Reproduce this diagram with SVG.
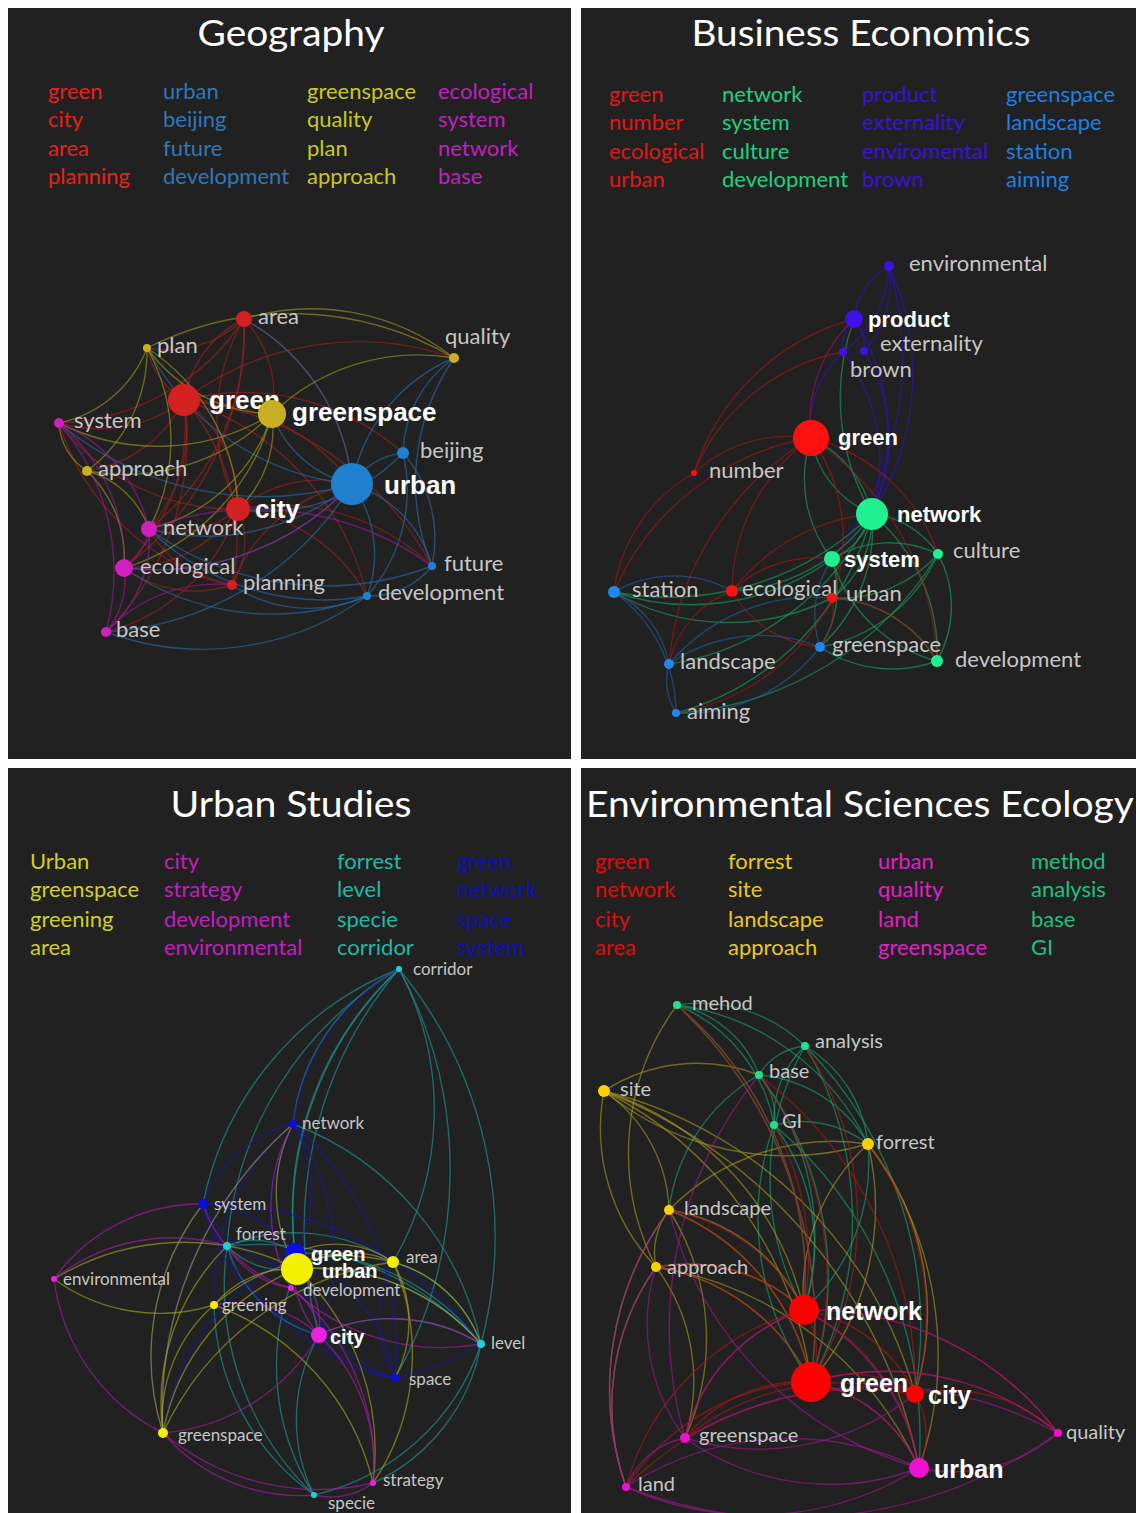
<svg xmlns="http://www.w3.org/2000/svg" width="1136" height="1513" viewBox="0 0 1136 1513">
<style>
.bg{fill:#212121}
.tt{font-family:Lato,"Open Sans",sans-serif;font-size:36px;fill:#ffffff;text-anchor:middle}
.lg{font-family:Lato,"Open Sans",sans-serif;font-size:22px}
.nl{font-family:Lato,"Open Sans",sans-serif;fill:#c6c6c6}
.s1{font-size:22px}.s3{font-size:17px}.s4{font-size:20px}
.bl{font-family:"Liberation Sans",Arial,sans-serif;font-weight:bold;fill:#ffffff}
.e path{fill:none;stroke-width:1.4;stroke-opacity:0.6}
.r1 path{stroke:#a02020}.b1 path{stroke:#2a6aa8}.y1 path{stroke:#a09a20}.m1 path{stroke:#9a1a9a}
.r2 path{stroke:#a01818}.g2 path{stroke:#18a060}.p2 path{stroke:#3010c0}.bl2 path{stroke:#1e5e9e}
.t3 path{stroke:#1e9a9a}.b3 path{stroke:#1818b0}.y3 path{stroke:#a8a820}.m3 path{stroke:#a820a8}
.g4 path{stroke:#18a070}.y4 path{stroke:#a89a20}.r4 path{stroke:#b01818}.m4 path{stroke:#a01890}
</style>
<rect width="1136" height="1513" fill="#ffffff"/>

<!-- ================= Panel 1: Geography ================= -->
<g id="panel-geography">
<rect class="bg" x="8" y="8" width="563" height="751"/>
<text class="tt" x="291" y="46" textLength="187" lengthAdjust="spacingAndGlyphs">Geography</text>
<g class="lg">
<text x="48" y="99" fill="#e8201c">green</text><text x="48" y="127" fill="#e8201c">city</text><text x="48" y="156" fill="#e8201c">area</text><text x="48" y="184" fill="#e8201c">planning</text>
<text x="163" y="99" fill="#2f78b8">urban</text><text x="163" y="127" fill="#2f78b8">beijing</text><text x="163" y="156" fill="#2f78b8">future</text><text x="163" y="184" fill="#2f78b8">development</text>
<text x="307" y="99" fill="#c8c820">greenspace</text><text x="307" y="127" fill="#c8c820">quality</text><text x="307" y="156" fill="#c8c820">plan</text><text x="307" y="184" fill="#c8c820">approach</text>
<text x="438" y="99" fill="#c020c0">ecological</text><text x="438" y="127" fill="#c020c0">system</text><text x="438" y="156" fill="#c020c0">network</text><text x="438" y="184" fill="#c020c0">base</text>
</g>
<g id="geo-connectors" class="e">
<g class="r1">
<path d="M184 400 A110 110 0 0 1 244 319"/><path d="M184 400 A80 80 0 0 1 147 348"/><path d="M184 400 A100 100 0 0 1 272 414"/><path d="M184 400 A140 140 0 0 1 59 423"/><path d="M184 400 A130 130 0 0 1 87 471"/><path d="M184 400 A210 210 0 0 1 352 484"/><path d="M184 400 A130 130 0 0 1 238 509"/><path d="M184 400 A150 150 0 0 1 149 529"/><path d="M184 400 A200 200 0 0 1 124 568"/><path d="M184 400 A210 210 0 0 1 232 585"/><path d="M184 400 A270 270 0 0 1 106 632"/><path d="M184 400 A270 270 0 0 1 367 596"/><path d="M184 400 A320 320 0 0 1 432 566"/><path d="M184 400 A240 240 0 0 1 403 453"/><path d="M184 400 A290 290 0 0 1 454 358"/>
<path d="M238 509 A200 200 0 0 1 244 319"/><path d="M238 509 A130 130 0 0 1 352 484"/><path d="M238 509 A100 100 0 0 1 149 529"/><path d="M238 509 A140 140 0 0 1 124 568"/><path d="M238 509 A80 80 0 0 1 232 585"/><path d="M238 509 A220 220 0 0 1 59 423"/><path d="M238 509 A220 220 0 0 1 432 566"/><path d="M238 509 A170 170 0 0 1 367 596"/><path d="M238 509 A190 190 0 0 1 106 632"/>
<path d="M244 319 A110 110 0 0 1 147 348"/><path d="M244 319 A210 210 0 0 1 352 484"/><path d="M244 319 A250 250 0 0 1 149 529"/><path d="M244 319 A230 230 0 0 1 59 423"/><path d="M244 319 A300 300 0 0 1 124 568"/><path d="M244 319 A110 110 0 0 1 272 414"/>
<path d="M232 585 A110 110 0 0 1 149 529"/><path d="M232 585 A160 160 0 0 1 352 484"/><path d="M232 585 A120 120 0 0 1 124 568"/><path d="M232 585 A240 240 0 0 1 59 423"/>
</g>
<g class="b1">
<path d="M352 484 A70 70 0 0 1 403 453"/><path d="M352 484 A120 120 0 0 1 432 566"/><path d="M352 484 A120 120 0 0 1 367 596"/><path d="M352 484 A170 170 0 0 1 454 358"/><path d="M352 484 A110 110 0 0 1 272 414"/><path d="M352 484 A230 230 0 0 1 149 529"/><path d="M352 484 A270 270 0 0 1 124 568"/><path d="M352 484 A320 320 0 0 1 59 423"/><path d="M352 484 A310 310 0 0 1 106 632"/><path d="M352 484 A260 260 0 0 1 147 348"/><path d="M352 484 A210 210 0 0 0 244 319"/>
<path d="M403 453 A130 130 0 0 1 432 566"/><path d="M403 453 A160 160 0 0 1 367 596"/><path d="M403 453 A120 120 0 0 1 454 358"/><path d="M403 453 A190 190 0 0 1 238 509"/>
<path d="M432 566 A80 80 0 0 1 367 596"/><path d="M432 566 A220 220 0 0 1 454 358"/><path d="M432 566 A300 300 0 0 1 149 529"/>
<path d="M367 596 A260 260 0 0 1 124 568"/><path d="M367 596 A280 280 0 0 1 106 632"/><path d="M367 596 A250 250 0 0 1 149 529"/><path d="M367 596 A140 140 0 0 1 232 585"/>
</g>
<g class="y1">
<path d="M272 414 A210 210 0 0 1 454 358"/><path d="M272 414 A160 160 0 0 1 147 348"/><path d="M272 414 A220 220 0 0 1 59 423"/><path d="M272 414 A210 210 0 0 1 87 471"/><path d="M272 414 A170 170 0 0 1 149 529"/><path d="M272 414 A110 110 0 0 1 238 509"/><path d="M272 414 A220 220 0 0 1 124 568"/>
<path d="M147 348 A150 150 0 0 1 87 471"/><path d="M147 348 A120 120 0 0 1 59 423"/><path d="M147 348 A320 320 0 0 1 454 358"/><path d="M147 348 A190 190 0 0 1 149 529"/><path d="M147 348 A200 200 0 0 1 238 509"/>
<path d="M87 471 A60 60 0 0 1 59 423"/><path d="M87 471 A90 90 0 0 1 149 529"/><path d="M87 471 A120 120 0 0 1 124 568"/><path d="M454 358 A230 230 0 0 0 244 319"/>
</g>
<g class="m1">
<path d="M59 423 A150 150 0 0 1 149 529"/><path d="M59 423 A180 180 0 0 1 124 568"/><path d="M59 423 A230 230 0 0 1 106 632"/><path d="M149 529 A60 60 0 0 1 124 568"/><path d="M149 529 A120 120 0 0 1 106 632"/><path d="M124 568 A80 80 0 0 1 106 632"/><path d="M106 632 A150 150 0 0 1 232 585"/><path d="M149 529 A300 300 0 0 1 432 566"/><path d="M124 568 A270 270 0 0 0 352 484"/>
</g>
</g>
<g id="geo-area"><circle cx="244" cy="319" r="8" fill="#d42020"/><text class="nl s1" x="258" y="324">area</text></g>
<g id="geo-plan"><circle cx="147" cy="348" r="4" fill="#c8b020"/><text class="nl s1" x="157" y="353">plan</text></g>
<g id="geo-quality"><circle cx="454" cy="358" r="5" fill="#c8b020"/><text class="nl s1" x="445" y="344">quality</text></g>
<g id="geo-system"><circle cx="59" cy="423" r="5" fill="#d020c0"/><text class="nl s1" x="74" y="428">system</text></g>
<g id="geo-beijing"><circle cx="403" cy="453" r="6" fill="#2080d0"/><text class="nl s1" x="420" y="458">beijing</text></g>
<g id="geo-approach"><circle cx="87" cy="471" r="5" fill="#c8b020"/><text class="nl s1" x="98" y="476">approach</text></g>
<g id="geo-network"><circle cx="149" cy="529" r="8" fill="#d020c0"/><text class="nl s1" x="163" y="535">network</text></g>
<g id="geo-ecological"><circle cx="124" cy="568" r="9" fill="#d020c0"/><text class="nl s1" x="140" y="574">ecological</text></g>
<g id="geo-planning"><circle cx="232" cy="585" r="5" fill="#d42020"/><text class="nl s1" x="243" y="590">planning</text></g>
<g id="geo-future"><circle cx="432" cy="566" r="4" fill="#2080d0"/><text class="nl s1" x="444" y="571">future</text></g>
<g id="geo-development"><circle cx="367" cy="596" r="4" fill="#2080d0"/><text class="nl s1" x="378" y="600">development</text></g>
<g id="geo-base"><circle cx="106" cy="632" r="5" fill="#d020c0"/><text class="nl s1" x="116" y="637">base</text></g>
<g id="geo-green"><circle cx="184" cy="400" r="16" fill="#d42020"/><text class="bl" font-size="26" x="209" y="409">green</text></g>
<g id="geo-greenspace"><circle cx="272" cy="414" r="14" fill="#c8b020"/><text class="bl" font-size="26" x="292" y="421">greenspace</text></g>
<g id="geo-urban"><circle cx="352" cy="484" r="21" fill="#2080d0"/><text class="bl" font-size="26" x="384" y="494">urban</text></g>
<g id="geo-city"><circle cx="238" cy="509" r="12" fill="#d42020"/><text class="bl" font-size="26" x="255" y="518">city</text></g>
</g>

<!-- ================= Panel 2: Business Economics ================= -->
<g id="panel-business">
<rect class="bg" x="581" y="8" width="555" height="751"/>
<text class="tt" x="861" y="46" textLength="339" lengthAdjust="spacingAndGlyphs">Business Economics</text>
<g class="lg">
<text x="609" y="102" fill="#e01818">green</text><text x="609" y="130" fill="#e01818">number</text><text x="609" y="159" fill="#e01818">ecological</text><text x="609" y="187" fill="#e01818">urban</text>
<text x="722" y="102" fill="#20d080">network</text><text x="722" y="130" fill="#20d080">system</text><text x="722" y="159" fill="#20d080">culture</text><text x="722" y="187" fill="#20d080">development</text>
<text x="862" y="102" fill="#3a12d8">product</text><text x="862" y="130" fill="#3a12d8">externality</text><text x="862" y="159" fill="#3a12d8">enviromental</text><text x="862" y="187" fill="#3a12d8">brown</text>
<text x="1006" y="102" fill="#1e80e0">greenspace</text><text x="1006" y="130" fill="#1e80e0">landscape</text><text x="1006" y="159" fill="#1e80e0">station</text><text x="1006" y="187" fill="#1e80e0">aiming</text>
</g>
<g id="bus-connectors" class="e">
<g class="p2">
<path d="M854 319 A70 70 0 0 1 889 266"/><path d="M854 319 A40 40 0 0 1 864 351"/><path d="M854 319 A40 40 0 0 0 843 352"/><path d="M889 266 A100 100 0 0 1 864 351"/><path d="M889 266 A110 110 0 0 1 843 352"/><path d="M854 319 A210 210 0 0 1 872 514"/><path d="M889 266 A260 260 0 0 1 872 514"/><path d="M864 351 A170 170 0 0 1 872 514"/><path d="M843 352 A100 100 0 0 0 811 438"/><path d="M854 319 A140 140 0 0 0 811 438"/><path d="M889 266 A320 320 0 0 1 832 559"/><path d="M843 352 A180 180 0 0 1 872 514"/>
</g>
<g class="g2">
<path d="M872 514 A100 100 0 0 1 811 438"/><path d="M872 514 A110 110 0 0 0 811 438"/><path d="M872 514 A70 70 0 0 1 832 559"/><path d="M872 514 A90 90 0 0 1 938 554"/><path d="M872 514 A100 100 0 0 1 832 598"/><path d="M872 514 A180 180 0 0 1 732 591"/><path d="M872 514 A180 180 0 0 1 937 661"/><path d="M872 514 A160 160 0 0 1 820 647"/><path d="M872 514 A270 270 0 0 1 669 664"/><path d="M872 514 A280 280 0 0 1 676 713"/><path d="M872 514 A230 230 0 0 1 854 319"/><path d="M872 514 A290 290 0 0 1 614 592"/>
<path d="M832 559 A110 110 0 0 1 938 554"/><path d="M832 559 A150 150 0 0 0 937 661"/><path d="M832 559 A240 240 0 0 1 614 592"/><path d="M832 559 A100 100 0 0 1 820 647"/><path d="M832 559 A130 130 0 0 1 811 438"/>
<path d="M938 554 A110 110 0 0 1 937 661"/><path d="M938 554 A130 130 0 0 1 832 598"/><path d="M938 554 A160 160 0 0 1 820 647"/><path d="M938 554 A330 330 0 0 1 676 713"/><path d="M937 661 A130 130 0 0 1 820 647"/><path d="M937 661 A130 130 0 0 0 832 598"/><path d="M614 592 A230 230 0 0 0 832 598"/>
</g>
<g class="r2">
<path d="M811 438 A140 140 0 0 0 694 473"/><path d="M811 438 A190 190 0 0 0 732 591"/><path d="M811 438 A170 170 0 0 1 832 598"/><path d="M811 438 A260 260 0 0 0 614 592"/><path d="M811 438 A290 290 0 0 0 669 664"/><path d="M811 438 A280 280 0 0 1 937 661"/><path d="M811 438 A180 180 0 0 1 938 554"/><path d="M811 438 A140 140 0 0 1 854 319"/>
<path d="M694 473 A230 230 0 0 1 854 319"/><path d="M694 473 A200 200 0 0 1 843 352"/><path d="M694 473 A160 160 0 0 0 614 592"/><path d="M832 598 A60 60 0 0 1 820 647"/><path d="M732 591 A120 120 0 0 1 832 559"/><path d="M732 591 A100 100 0 0 0 669 664"/><path d="M832 598 A210 210 0 0 1 676 713"/><path d="M732 591 A110 110 0 0 0 820 647"/><path d="M832 598 A130 130 0 0 1 937 661"/><path d="M732 591 A200 200 0 0 1 872 514"/>
</g>
<g class="bl2">
<path d="M614 592 A100 100 0 0 1 669 664"/><path d="M614 592 A120 120 0 0 1 732 591"/><path d="M614 592 A150 150 0 0 1 676 713"/><path d="M669 664 A160 160 0 0 1 820 647"/><path d="M669 664 A60 60 0 0 0 676 713"/><path d="M676 713 A170 170 0 0 0 820 647"/><path d="M669 664 A190 190 0 0 1 832 598"/><path d="M820 647 A100 100 0 0 1 832 559"/>
</g>
</g>
<g id="bus-environmental"><circle cx="889" cy="266" r="5" fill="#4010e8"/><text class="nl s1" x="909" y="271">environmental</text></g>
<g id="bus-externality"><circle cx="864" cy="351" r="4" fill="#4010e8"/><text class="nl s1" x="880" y="351">externality</text></g>
<g id="bus-brown"><circle cx="843" cy="352" r="4" fill="#4010e8"/><text class="nl s1" x="850" y="377">brown</text></g>
<g id="bus-number"><circle cx="694" cy="473" r="3" fill="#ff1010"/><text class="nl s1" x="709" y="478">number</text></g>
<g id="bus-culture"><circle cx="938" cy="554" r="5" fill="#20f090"/><text class="nl s1" x="953" y="558">culture</text></g>
<g id="bus-station"><circle cx="614" cy="592" r="6" fill="#1e88f0"/><text class="nl s1" x="632" y="597">station</text></g>
<g id="bus-ecological"><circle cx="732" cy="591" r="6" fill="#ff1010"/><text class="nl s1" x="742" y="596">ecological</text></g>
<g id="bus-urban"><circle cx="832" cy="598" r="5" fill="#ff1010"/><text class="nl s1" x="846" y="601">urban</text></g>
<g id="bus-greenspace"><circle cx="820" cy="647" r="5" fill="#1e88f0"/><text class="nl s1" x="832" y="652">greenspace</text></g>
<g id="bus-development"><circle cx="937" cy="661" r="6" fill="#20f090"/><text class="nl s1" x="955" y="667">development</text></g>
<g id="bus-landscape"><circle cx="669" cy="664" r="5" fill="#1e88f0"/><text class="nl s1" x="680" y="669">landscape</text></g>
<g id="bus-aiming"><circle cx="676" cy="713" r="4" fill="#1e88f0"/><text class="nl s1" x="687" y="719">aiming</text></g>
<g id="bus-product"><circle cx="854" cy="319" r="9" fill="#4010e8"/><text class="bl" font-size="22" x="868" y="327">product</text></g>
<g id="bus-green"><circle cx="811" cy="438" r="18" fill="#ff1010"/><text class="bl" font-size="22" x="838" y="445">green</text></g>
<g id="bus-network"><circle cx="872" cy="514" r="16" fill="#20f090"/><text class="bl" font-size="22" x="897" y="522">network</text></g>
<g id="bus-system"><circle cx="832" cy="559" r="8" fill="#20f090"/><text class="bl" font-size="22" x="844" y="567">system</text></g>
</g>

<!-- ================= Panel 3: Urban Studies ================= -->
<g id="panel-urban">
<rect class="bg" x="8" y="768" width="563" height="745"/>
<text class="tt" x="291" y="817" textLength="241" lengthAdjust="spacingAndGlyphs">Urban Studies</text>
<g class="lg">
<text x="30" y="869" fill="#d0d020">Urban</text><text x="30" y="897" fill="#d0d020">greenspace</text><text x="30" y="927" fill="#d0d020">greening</text><text x="30" y="955" fill="#d0d020">area</text>
<text x="164" y="869" fill="#c020c0">city</text><text x="164" y="897" fill="#c020c0">strategy</text><text x="164" y="927" fill="#c020c0">development</text><text x="164" y="955" fill="#c020c0">environmental</text>
<text x="337" y="869" fill="#20b8a8">forrest</text><text x="337" y="897" fill="#20b8a8">level</text><text x="337" y="927" fill="#20b8a8">specie</text><text x="337" y="955" fill="#20b8a8">corridor</text>
<text x="457" y="869" fill="#1010b8">green</text><text x="457" y="897" fill="#1010b8">network</text><text x="457" y="927" fill="#1010b8">space</text><text x="457" y="955" fill="#1010b8">system</text>
</g>
<g id="urb-connectors" class="e">
<g class="t3">
<path d="M399 969 A200 200 0 0 0 293 1124"/><path d="M399 969 A320 320 0 0 0 203 1204"/><path d="M399 969 A330 330 0 0 0 295 1253"/><path d="M399 969 A340 340 0 0 0 297 1269"/><path d="M399 969 A300 300 0 0 1 393 1262"/><path d="M399 969 A420 420 0 0 1 481 1344"/><path d="M399 969 A400 400 0 0 0 319 1335"/><path d="M399 969 A350 350 0 0 0 227 1246"/><path d="M399 969 A420 420 0 0 1 395 1378"/>
<path d="M227 1246 A70 70 0 0 1 295 1253"/><path d="M227 1246 A80 80 0 0 0 297 1269"/><path d="M227 1246 A300 300 0 0 1 481 1344"/><path d="M227 1246 A290 290 0 0 0 314 1495"/><path d="M227 1246 A180 180 0 0 1 393 1262"/><path d="M227 1246 A130 130 0 0 0 319 1335"/>
<path d="M481 1344 A220 220 0 0 0 297 1269"/><path d="M481 1344 A230 230 0 0 0 295 1253"/><path d="M481 1344 A130 130 0 0 0 393 1262"/><path d="M481 1344 A190 190 0 0 1 373 1483"/><path d="M481 1344 A230 230 0 0 1 314 1495"/><path d="M481 1344 A170 170 0 0 0 319 1335"/>
<path d="M314 1495 A170 170 0 0 1 319 1335"/><path d="M314 1495 A240 240 0 0 1 297 1269"/><path d="M314 1495 A240 240 0 0 1 214 1305"/><path d="M293 1124 A300 300 0 0 1 481 1344"/>
</g>
<g class="b3">
<path d="M293 1124 A130 130 0 0 1 295 1253"/><path d="M293 1124 A150 150 0 0 0 297 1269"/><path d="M293 1124 A130 130 0 0 0 203 1204"/><path d="M293 1124 A230 230 0 0 1 319 1335"/><path d="M293 1124 A300 300 0 0 1 395 1378"/><path d="M293 1124 A170 170 0 0 0 291 1288"/><path d="M293 1124 A210 210 0 0 1 399 969"/><path d="M293 1124 A220 220 0 0 0 214 1305"/><path d="M293 1124 A370 370 0 0 0 163 1433"/>
<path d="M203 1204 A120 120 0 0 1 295 1253"/><path d="M203 1204 A120 120 0 0 0 297 1269"/><path d="M203 1204 A180 180 0 0 0 319 1335"/><path d="M203 1204 A340 340 0 0 1 481 1344"/><path d="M203 1204 A250 250 0 0 0 163 1433"/><path d="M203 1204 A270 270 0 0 0 395 1378"/>
<path d="M295 1253 A170 170 0 0 1 395 1378"/><path d="M395 1378 A150 150 0 0 1 297 1269"/><path d="M395 1378 A100 100 0 0 1 319 1335"/><path d="M395 1378 A120 120 0 0 1 393 1262"/><path d="M295 1253 A240 240 0 0 0 163 1433"/><path d="M395 1378 A250 250 0 0 0 481 1344"/>
</g>
<g class="y3">
<path d="M297 1269 A100 100 0 0 1 393 1262"/><path d="M297 1269 A100 100 0 0 0 214 1305"/><path d="M297 1269 A220 220 0 0 0 163 1433"/><path d="M297 1269 A250 250 0 0 0 54 1279"/><path d="M297 1269 A250 250 0 0 1 373 1483"/><path d="M297 1269 A220 220 0 0 1 481 1344"/><path d="M297 1269 A150 150 0 0 1 293 1124"/>
<path d="M163 1433 A250 250 0 0 1 203 1204"/><path d="M163 1433 A150 150 0 0 1 214 1305"/><path d="M163 1433 A300 300 0 0 1 393 1262"/><path d="M163 1433 A220 220 0 0 1 227 1246"/><path d="M163 1433 A380 380 0 0 1 293 1124"/>
<path d="M214 1305 A180 180 0 0 1 54 1279"/><path d="M214 1305 A200 200 0 0 1 393 1262"/><path d="M214 1305 A250 250 0 0 1 373 1483"/><path d="M393 1262 A130 130 0 0 1 481 1344"/><path d="M393 1262 A120 120 0 0 1 395 1378"/><path d="M393 1262 A230 230 0 0 1 373 1483"/><path d="M393 1262 A100 100 0 0 0 295 1253"/>
</g>
<g class="m3">
<path d="M319 1335 A80 80 0 0 0 297 1269"/><path d="M319 1335 A100 100 0 0 1 295 1253"/><path d="M319 1335 A180 180 0 0 1 373 1483"/><path d="M319 1335 A60 60 0 0 0 291 1288"/><path d="M319 1335 A200 200 0 0 1 163 1433"/><path d="M319 1335 A120 120 0 0 0 214 1305"/><path d="M319 1335 A170 170 0 0 1 481 1344"/>
<path d="M373 1483 A240 240 0 0 1 163 1433"/><path d="M373 1483 A230 230 0 0 0 291 1288"/><path d="M373 1483 A70 70 0 0 1 314 1495"/><path d="M314 1495 A180 180 0 0 1 163 1433"/>
<path d="M54 1279 A180 180 0 0 1 203 1204"/><path d="M54 1279 A190 190 0 0 1 227 1246"/><path d="M54 1279 A200 200 0 0 0 163 1433"/>
<path d="M291 1288 A170 170 0 0 1 293 1124"/><path d="M291 1288 A130 130 0 0 1 203 1204"/><path d="M291 1288 A220 220 0 0 0 481 1344"/><path d="M291 1288 A90 90 0 0 1 227 1246"/>
</g>
</g>
<g id="urb-corridor"><circle cx="399" cy="969" r="3" fill="#20d0d0"/><text class="nl s3" x="413" y="975">corridor</text></g>
<g id="urb-network"><circle cx="293" cy="1124" r="4" fill="#0c0ce0"/><text class="nl s3" x="302" y="1129">network</text></g>
<g id="urb-system"><circle cx="203" cy="1204" r="5" fill="#0c0ce0"/><text class="nl s3" x="214" y="1210">system</text></g>
<g id="urb-forrest"><circle cx="227" cy="1246" r="4" fill="#20d0d0"/><text class="nl s3" x="236" y="1240">forrest</text></g>
<g id="urb-area"><circle cx="393" cy="1262" r="6" fill="#f0f000"/><text class="nl s3" x="406" y="1263">area</text></g>
<g id="urb-environmental"><circle cx="54" cy="1279" r="3" fill="#f020e0"/><text class="nl s3" x="63" y="1285">environmental</text></g>
<g id="urb-greening"><circle cx="214" cy="1305" r="4" fill="#f0f000"/><text class="nl s3" x="222" y="1311">greening</text></g>
<g id="urb-level"><circle cx="481" cy="1344" r="4" fill="#20d0d0"/><text class="nl s3" x="491" y="1349">level</text></g>
<g id="urb-space"><circle cx="395" cy="1378" r="4" fill="#0c0ce0"/><text class="nl s3" x="409" y="1385">space</text></g>
<g id="urb-greenspace"><circle cx="163" cy="1433" r="5" fill="#f0f000"/><text class="nl s3" x="178" y="1441">greenspace</text></g>
<g id="urb-strategy"><circle cx="373" cy="1483" r="3" fill="#f020e0"/><text class="nl s3" x="383" y="1486">strategy</text></g>
<g id="urb-specie"><circle cx="314" cy="1495" r="3" fill="#20d0d0"/><text class="nl s3" x="328" y="1509">specie</text></g>
<g id="urb-green"><circle cx="295" cy="1253" r="10" fill="#0c0ce8"/><text class="bl" font-size="20" x="311" y="1261">green</text></g>
<g id="urb-urban"><circle cx="297" cy="1269" r="16" fill="#f0f000"/><text class="bl" font-size="20" x="322" y="1278">urban</text></g>
<g id="urb-development"><circle cx="291" cy="1288" r="3" fill="#f020e0"/><text class="nl s3" x="303" y="1296">development</text></g>
<g id="urb-city"><circle cx="319" cy="1335" r="8" fill="#f020e0"/><text class="bl" font-size="20" x="330" y="1344">city</text></g>
</g>

<!-- ================= Panel 4: Environmental Sciences Ecology ================= -->
<g id="panel-environmental">
<rect class="bg" x="581" y="768" width="555" height="745"/>
<text class="tt" x="860" y="817" textLength="548" lengthAdjust="spacingAndGlyphs">Environmental Sciences Ecology</text>
<g class="lg">
<text x="595" y="869" fill="#e00c0c">green</text><text x="595" y="897" fill="#e00c0c">network</text><text x="595" y="927" fill="#e00c0c">city</text><text x="595" y="955" fill="#e00c0c">area</text>
<text x="728" y="869" fill="#e8c820">forrest</text><text x="728" y="897" fill="#e8c820">site</text><text x="728" y="927" fill="#e8c820">landscape</text><text x="728" y="955" fill="#e8c820">approach</text>
<text x="878" y="869" fill="#e020c8">urban</text><text x="878" y="897" fill="#e020c8">quality</text><text x="878" y="927" fill="#e020c8">land</text><text x="878" y="955" fill="#e020c8">greenspace</text>
<text x="1031" y="869" fill="#20c080">method</text><text x="1031" y="897" fill="#20c080">analysis</text><text x="1031" y="927" fill="#20c080">base</text><text x="1031" y="955" fill="#20c080">GI</text>
</g>
<g id="env-connectors" class="e">
<g class="g4">
<path d="M677 1005 A150 150 0 0 1 805 1046"/><path d="M677 1005 A110 110 0 0 1 759 1075"/><path d="M677 1005 A160 160 0 0 1 774 1125"/><path d="M677 1005 A250 250 0 0 1 868 1144"/><path d="M677 1005 A360 360 0 0 1 804 1310"/><path d="M677 1005 A440 440 0 0 1 811 1382"/>
<path d="M805 1046 A60 60 0 0 0 759 1075"/><path d="M805 1046 A100 100 0 0 0 774 1125"/><path d="M805 1046 A130 130 0 0 1 868 1144"/><path d="M805 1046 A270 270 0 0 0 804 1310"/><path d="M805 1046 A340 340 0 0 1 811 1382"/><path d="M805 1046 A400 400 0 0 1 915 1394"/>
<path d="M759 1075 A60 60 0 0 1 774 1125"/><path d="M759 1075 A260 260 0 0 1 804 1310"/><path d="M759 1075 A330 330 0 0 1 811 1382"/><path d="M759 1075 A140 140 0 0 1 868 1144"/><path d="M759 1075 A180 180 0 0 0 669 1210"/>
<path d="M774 1125 A200 200 0 0 1 804 1310"/><path d="M774 1125 A280 280 0 0 0 811 1382"/><path d="M774 1125 A110 110 0 0 1 868 1144"/><path d="M774 1125 A410 410 0 0 1 919 1468"/><path d="M868 1144 A200 200 0 0 1 804 1310"/>
</g>
<g class="y4">
<path d="M604 1091 A170 170 0 0 1 759 1075"/><path d="M604 1091 A290 290 0 0 0 868 1144"/><path d="M604 1091 A150 150 0 0 1 669 1210"/><path d="M604 1091 A200 200 0 0 0 656 1267"/><path d="M604 1091 A300 300 0 0 1 804 1310"/><path d="M604 1091 A380 380 0 0 1 811 1382"/><path d="M604 1091 A430 430 0 0 1 915 1394"/><path d="M604 1091 A510 510 0 0 1 919 1468"/>
<path d="M868 1144 A200 200 0 0 0 804 1310"/><path d="M868 1144 A270 270 0 0 1 811 1382"/><path d="M868 1144 A270 270 0 0 1 915 1394"/><path d="M868 1144 A350 350 0 0 1 919 1468"/><path d="M868 1144 A230 230 0 0 0 669 1210"/>
<path d="M669 1210 A70 70 0 0 0 656 1267"/><path d="M669 1210 A180 180 0 0 1 804 1310"/><path d="M669 1210 A230 230 0 0 1 811 1382"/><path d="M669 1210 A240 240 0 0 1 685 1438"/><path d="M669 1210 A300 300 0 0 0 626 1487"/>
<path d="M656 1267 A170 170 0 0 1 804 1310"/><path d="M656 1267 A210 210 0 0 1 811 1382"/><path d="M656 1267 A190 190 0 0 1 685 1438"/><path d="M656 1267 A240 240 0 0 0 626 1487"/><path d="M656 1267 A350 350 0 0 1 919 1468"/><path d="M677 1005 A250 250 0 0 0 656 1267"/>
</g>
<g class="r4">
<path d="M804 1310 A80 80 0 0 1 811 1382"/><path d="M804 1310 A150 150 0 0 1 915 1394"/><path d="M804 1310 A210 210 0 0 1 919 1468"/><path d="M804 1310 A180 180 0 0 0 685 1438"/><path d="M804 1310 A250 250 0 0 0 626 1487"/><path d="M804 1310 A310 310 0 0 1 1058 1433"/>
<path d="M811 1382 A110 110 0 0 1 915 1394"/><path d="M811 1382 A150 150 0 0 1 919 1468"/><path d="M811 1382 A150 150 0 0 0 685 1438"/><path d="M811 1382 A230 230 0 0 0 626 1487"/><path d="M811 1382 A270 270 0 0 1 1058 1433"/><path d="M811 1382 A440 440 0 0 0 677 1005"/>
<path d="M915 1394 A160 160 0 0 1 1058 1433"/><path d="M915 1394 A80 80 0 0 1 919 1468"/><path d="M915 1394 A250 250 0 0 0 685 1438"/><path d="M915 1394 A330 330 0 0 0 626 1487"/><path d="M915 1394 A390 390 0 0 0 759 1075"/><path d="M804 1310 A360 360 0 0 0 677 1005"/><path d="M811 1382 A230 230 0 0 0 669 1210"/><path d="M804 1310 A190 190 0 0 0 669 1210"/>
<path d="M804 1310 A170 170 0 0 0 656 1267"/><path d="M811 1382 A210 210 0 0 0 656 1267"/><path d="M804 1310 A280 280 0 0 0 774 1125"/><path d="M811 1382 A340 340 0 0 0 759 1075"/><path d="M915 1394 A280 280 0 0 0 868 1144"/><path d="M811 1382 A310 310 0 0 0 805 1046"/>
</g>
<g class="m4">
<path d="M919 1468 A160 160 0 0 0 1058 1433"/><path d="M919 1468 A250 250 0 0 1 685 1438"/><path d="M919 1468 A310 310 0 0 1 626 1487"/><path d="M919 1468 A360 360 0 0 1 669 1210"/><path d="M685 1438 A80 80 0 0 0 626 1487"/><path d="M685 1438 A380 380 0 0 1 1058 1433"/><path d="M685 1438 A400 400 0 0 1 759 1075"/><path d="M626 1487 A460 460 0 0 0 1058 1433"/>
<path d="M626 1487 A300 300 0 0 1 669 1210"/><path d="M685 1438 A180 180 0 0 1 804 1310"/><path d="M1058 1433 A270 270 0 0 0 811 1382"/><path d="M1058 1433 A310 310 0 0 0 804 1310"/><path d="M626 1487 A240 240 0 0 1 656 1267"/><path d="M685 1438 A190 190 0 0 1 656 1267"/><path d="M919 1468 A150 150 0 0 0 811 1382"/><path d="M626 1487 A300 300 0 0 1 919 1468"/>
<path d="M919 1468 A220 220 0 0 0 804 1310"/><path d="M685 1438 A250 250 0 0 0 915 1394"/>
</g>
</g>
<g id="env-mehod"><circle cx="677" cy="1005" r="4" fill="#20e090"/><text class="nl s4" x="692" y="1010">mehod</text></g>
<g id="env-analysis"><circle cx="805" cy="1046" r="4" fill="#20e090"/><text class="nl s4" x="815" y="1048">analysis</text></g>
<g id="env-base"><circle cx="759" cy="1075" r="4" fill="#20e090"/><text class="nl s4" x="769" y="1078">base</text></g>
<g id="env-site"><circle cx="604" cy="1091" r="6" fill="#ffd000"/><text class="nl s4" x="620" y="1096">site</text></g>
<g id="env-gi"><circle cx="774" cy="1125" r="4" fill="#20e090"/><text class="nl s4" x="782" y="1128">GI</text></g>
<g id="env-forrest"><circle cx="868" cy="1144" r="6" fill="#ffd000"/><text class="nl s4" x="876" y="1149">forrest</text></g>
<g id="env-landscape"><circle cx="669" cy="1210" r="5" fill="#ffd000"/><text class="nl s4" x="684" y="1215">landscape</text></g>
<g id="env-approach"><circle cx="656" cy="1267" r="5" fill="#ffd000"/><text class="nl s4" x="667" y="1274">approach</text></g>
<g id="env-greenspace"><circle cx="685" cy="1438" r="5" fill="#f010d0"/><text class="nl s4" x="699" y="1442">greenspace</text></g>
<g id="env-quality"><circle cx="1058" cy="1433" r="4" fill="#f010d0"/><text class="nl s4" x="1066" y="1439">quality</text></g>
<g id="env-land"><circle cx="626" cy="1487" r="4" fill="#f010d0"/><text class="nl s4" x="638" y="1491">land</text></g>
<g id="env-network"><circle cx="804" cy="1310" r="15" fill="#ff0000"/><text class="bl" font-size="25" x="826" y="1320">network</text></g>
<g id="env-green"><circle cx="811" cy="1382" r="20" fill="#ff0000"/><text class="bl" font-size="25" x="840" y="1392">green</text></g>
<g id="env-city"><circle cx="915" cy="1394" r="9" fill="#ff0000"/><text class="bl" font-size="25" x="928" y="1404">city</text></g>
<g id="env-urban"><circle cx="919" cy="1468" r="10" fill="#f010d0"/><text class="bl" font-size="25" x="934" y="1478">urban</text></g>
</g>
</svg>
